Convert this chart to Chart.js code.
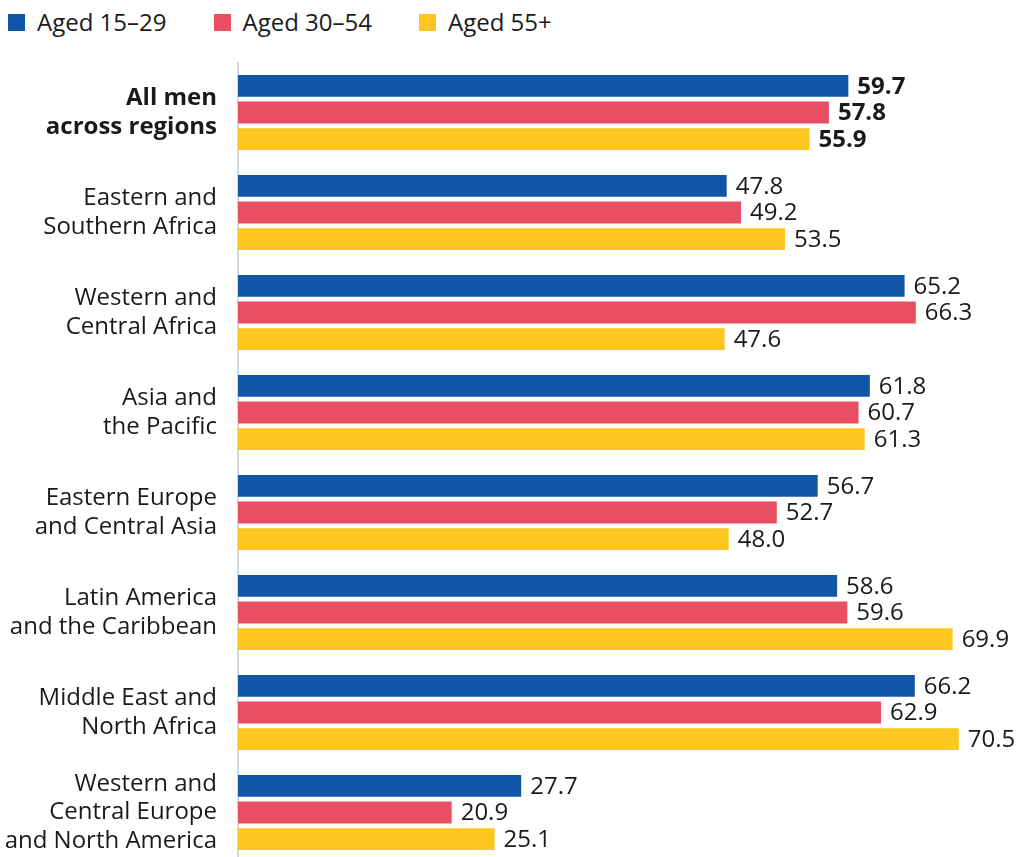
<!DOCTYPE html>
<html lang="en">
<head>
<meta charset="utf-8">
<title>Men by region and age group</title>
<script src="https://cdn.jsdelivr.net/npm/chart.js@4.4.1/dist/chart.umd.min.js"></script>
<style>
  html, body { margin: 0; padding: 0; background: #fff; overflow: hidden; }
  body { width: 1017px; height: 857px; position: relative; font-family: "Open Sans", sans-serif; color: #1a1a1a; }
  #legend { position: absolute; left: 8px; top: 6px; display: flex; align-items: center; font-size: 24px; line-height: 32px; }
  .legend-item { display: flex; align-items: center; margin-right: 47px; }
  .legend-swatch { width: 17px; height: 17px; margin-right: 12px; }
  #chart { position: absolute; left: 0; top: 0; }
</style>
</head>
<body>
<div id="legend"></div>
<canvas id="chart" width="1017" height="870"></canvas>
<script>
const regions = [
  ['All men', 'across regions'],
  ['Eastern and', 'Southern Africa'],
  ['Western and', 'Central Africa'],
  ['Asia and', 'the Pacific'],
  ['Eastern Europe', 'and Central Asia'],
  ['Latin America', 'and the Caribbean'],
  ['Middle East and', 'North Africa'],
  ['Western and', 'Central Europe', 'and North America'],
];

const seriesNames = ['Aged 15–29', 'Aged 30–54', 'Aged 55+'];
const seriesColors = ['#1155a6', '#e94f63', '#fcc61f'];

const aged15to29 = [59.7, 47.8, 65.2, 61.8, 56.7, 58.6, 66.2, 27.7];
const aged30to54 = [57.8, 49.2, 66.3, 60.7, 52.7, 59.6, 62.9, 20.9];
const aged55plus = [55.9, 53.5, 47.6, 61.3, 48.0, 69.9, 70.5, 25.1];

const FONT = '"Open Sans", sans-serif';
const TEXT_COLOR = '#1a1a1a';

const legendNode = document.getElementById('legend');
legendNode.innerHTML = seriesNames.map((name, i) => `
  <div class="legend-item">
    <span class="legend-swatch" style="background:${seriesColors[i]}"></span>
    <span>${name}</span>
  </div>
`).join('');

// value labels to the right of each bar, bold for the summary row
const valueLabels = {
  id: 'valueLabels',
  afterDatasetsDraw(chart) {
    const { ctx } = chart;
    ctx.save();
    ctx.fillStyle = TEXT_COLOR;
    ctx.textAlign = 'left';
    ctx.textBaseline = 'middle';
    chart.data.datasets.forEach((ds, di) => {
      chart.getDatasetMeta(di).data.forEach((bar, i) => {
        ctx.font = `${i === 0 ? 'bold ' : ''}24px ${FONT}`;
        ctx.fillText(ds.data[i].toFixed(1), bar.x + 9, bar.y + 1);
      });
    });
    ctx.restore();
  },
};

new Chart(document.getElementById('chart'), {
  type: 'bar',
  data: {
    labels: regions,
    datasets: [aged15to29, aged30to54, aged55plus].map((values, i) => ({
      label: seriesNames[i],
      data: values,
      backgroundColor: seriesColors[i],
      categoryPercentage: 0.8,
      barPercentage: 0.82,
    })),
  },
  options: {
    indexAxis: 'y',
    responsive: false,
    animation: false,
    layout: { padding: { top: 62.5, bottom: 7.5, right: 2, left: 0 } },
    plugins: { legend: { display: false }, tooltip: { enabled: false } },
    scales: {
      x: { display: false, min: 0, max: 76 },
      y: {
        afterFit(scale) {
          scale.width = 238;
          // labels fit inside their band, no extra room needed
          scale.paddingTop = 0;
          scale.paddingBottom = 0;
        },
        grid: { display: false, drawTicks: false },
        border: { display: true, color: '#cdd9e5', width: 2 },
        ticks: {
          color: TEXT_COLOR,
          padding: 21,
          font: (c) => ({ family: FONT, size: 24, weight: c.index === 0 ? 'bold' : 'normal', lineHeight: 1.2 }),
        },
      },
    },
  },
  plugins: [valueLabels],
});
</script>
</body>
</html>
